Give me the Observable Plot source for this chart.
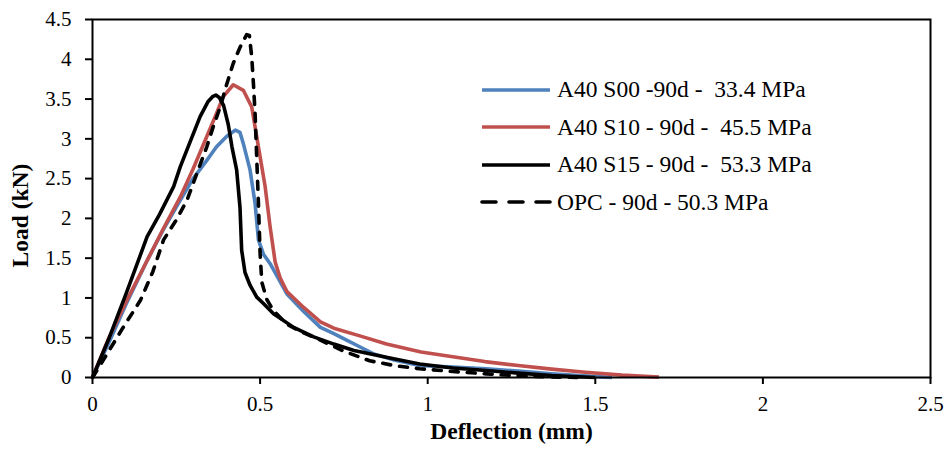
<!DOCTYPE html>
<html>
<head>
<meta charset="utf-8">
<script src="https://cdn.jsdelivr.net/npm/d3@7"></script>
<script src="https://cdn.jsdelivr.net/npm/@observablehq/plot@0.6"></script>
<style>
  html, body { margin: 0; padding: 0; background: #fff; }
  #wrap { position: relative; width: 949px; height: 454px; font-family: "Liberation Serif", "Times New Roman", serif; }
  #legend { position: absolute; left: 480px; top: 71px; }
  .item { display: flex; align-items: center; height: 37.5px; }
  .item svg { width: 72px; height: 10px; margin-right: 5px; }
  .item span { font-size: 23.5px; white-space: pre; color: #000; }
</style>
</head>
<body>
<div id="wrap"></div>
<script>
// ---- data ----
const seriesNames = [
  "A40 S00 -90d -  33.4 MPa",
  "A40 S10 - 90d -  45.5 MPa",
  "A40 S15 - 90d -  53.3 MPa",
  "OPC - 90d - 50.3 MPa"
];
const seriesColors = ["#4F81BD", "#C0504D", "#000000", "#000000"];
const seriesDash = [null, null, null, "8,9"];

const s00X = [0,0.05,0.10,0.163,0.21,0.262,0.30,0.341,0.37,0.40,0.426,0.44,0.45,0.47,0.485,0.495,0.51,0.53,0.58,0.63,0.68,0.72,0.758,0.80,0.837,0.90,0.976,1.075,1.175,1.27,1.37,1.45,1.53,1.55];
const s00Y = [0,0.45,0.92,1.47,1.85,2.23,2.50,2.73,2.90,3.03,3.11,3.08,2.94,2.61,2.19,1.73,1.55,1.43,1.05,0.83,0.63,0.55,0.47,0.38,0.30,0.22,0.15,0.13,0.11,0.08,0.046,0.025,0.005,0];

const s10X = [0,0.049,0.10,0.163,0.21,0.262,0.30,0.341,0.37,0.39,0.42,0.45,0.475,0.495,0.515,0.53,0.545,0.56,0.58,0.63,0.68,0.72,0.80,0.877,0.98,1.075,1.17,1.27,1.37,1.47,1.58,1.69];
const s10Y = [0,0.50,0.95,1.47,1.86,2.27,2.62,3.03,3.32,3.53,3.68,3.61,3.40,2.90,2.40,1.89,1.45,1.25,1.08,0.88,0.70,0.62,0.52,0.42,0.32,0.26,0.20,0.15,0.105,0.067,0.03,0.005];

const s15X = [0,0.05,0.10,0.163,0.20,0.242,0.262,0.29,0.321,0.345,0.358,0.368,0.378,0.391,0.405,0.416,0.43,0.44,0.445,0.455,0.47,0.49,0.51,0.54,0.60,0.66,0.72,0.78,0.88,0.976,1.075,1.175,1.27,1.37,1.45,1.50];
const s15Y = [0,0.50,1.05,1.77,2.05,2.40,2.65,2.95,3.28,3.47,3.53,3.55,3.52,3.42,3.18,2.90,2.61,2.14,1.60,1.32,1.16,1.01,0.93,0.80,0.63,0.51,0.42,0.34,0.25,0.17,0.12,0.088,0.055,0.025,0.01,0];

const opcX = [0,0.044,0.09,0.143,0.18,0.212,0.25,0.282,0.31,0.341,0.36,0.381,0.40,0.42,0.44,0.46,0.468,0.475,0.48,0.485,0.49,0.495,0.50,0.505,0.52,0.54,0.58,0.63,0.68,0.75,0.827,0.90,0.976,1.075,1.175,1.27,1.35,1.45];
const opcY = [0,0.30,0.62,0.97,1.33,1.73,1.98,2.23,2.55,2.90,3.15,3.40,3.68,3.95,4.15,4.31,4.30,4.03,3.70,3.32,2.75,2.19,1.56,1.20,0.98,0.84,0.67,0.56,0.47,0.33,0.21,0.15,0.11,0.075,0.046,0.02,0.008,0];

const xTicks = [0, 0.5, 1, 1.5, 2, 2.5];
const yTicks = [0, 0.5, 1, 1.5, 2, 2.5, 3, 3.5, 4, 4.5];
const xLabel = "Deflection (mm)";
const yLabel = "Load (kN)";

// ---- build ----
const xs = [s00X, s10X, s15X, opcX];
const ys = [s00Y, s10Y, s15Y, opcY];
const series = xs.map((xa, i) => xa.map((x, j) => ({x, y: ys[i][j]})));

const lineMarks = series.map((d, i) => Plot.line(d, {
  x: "x", y: "y",
  stroke: seriesColors[i],
  strokeWidth: 3.6,
  strokeDasharray: seriesDash[i] || undefined,
  strokeLinecap: seriesDash[i] ? "round" : "butt",
  strokeLinejoin: "round"
}));

const chart = Plot.plot({
  width: 949,
  height: 454,
  marginLeft: 92,
  marginRight: 19,
  marginTop: 19,
  marginBottom: 77,
  style: { fontFamily: "Liberation Serif, Times New Roman, serif", fontSize: "21px", color: "#000", background: "#fff" },
  x: { domain: [0, 2.5], ticks: xTicks, label: null },
  y: { domain: [0, 4.5], ticks: yTicks, label: null },
  marks: [
    ...lineMarks,
    Plot.frame({ stroke: "#000", strokeWidth: 2 }),
    Plot.axisX(xTicks, { tickSize: 7, strokeWidth: 2, tickPadding: 12, tickFormat: d => String(d), fontSize: 21, label: null }),
    Plot.axisY(yTicks, { tickSize: 7, strokeWidth: 2, tickPadding: 14, tickFormat: d => String(d), fontSize: 21, label: null }),
    Plot.text([xLabel], { text: d => d, frameAnchor: "bottom", dy: 61, fontWeight: "bold", fontSize: 23.5 }),
    Plot.text([yLabel], { text: d => d, frameAnchor: "left", textAnchor: "middle", rotate: -90, dx: -72, dy: 17, fontWeight: "bold", fontSize: 23.5 })
  ]
});

const wrap = document.getElementById("wrap");
wrap.appendChild(chart);

// legend
const legend = document.createElement("div");
legend.id = "legend";
seriesNames.forEach((name, i) => {
  const item = document.createElement("div");
  item.className = "item";
  const dash = seriesDash[i] ? `stroke-dasharray="14,13" stroke-linecap="round"` : "";
  item.innerHTML = `<svg viewBox="0 0 72 10"><line x1="2" y1="5" x2="70" y2="5" stroke="${seriesColors[i]}" stroke-width="3.6" ${dash}/></svg><span>${name}</span>`;
  legend.appendChild(item);
});
wrap.appendChild(legend);
</script>
</body>
</html>
